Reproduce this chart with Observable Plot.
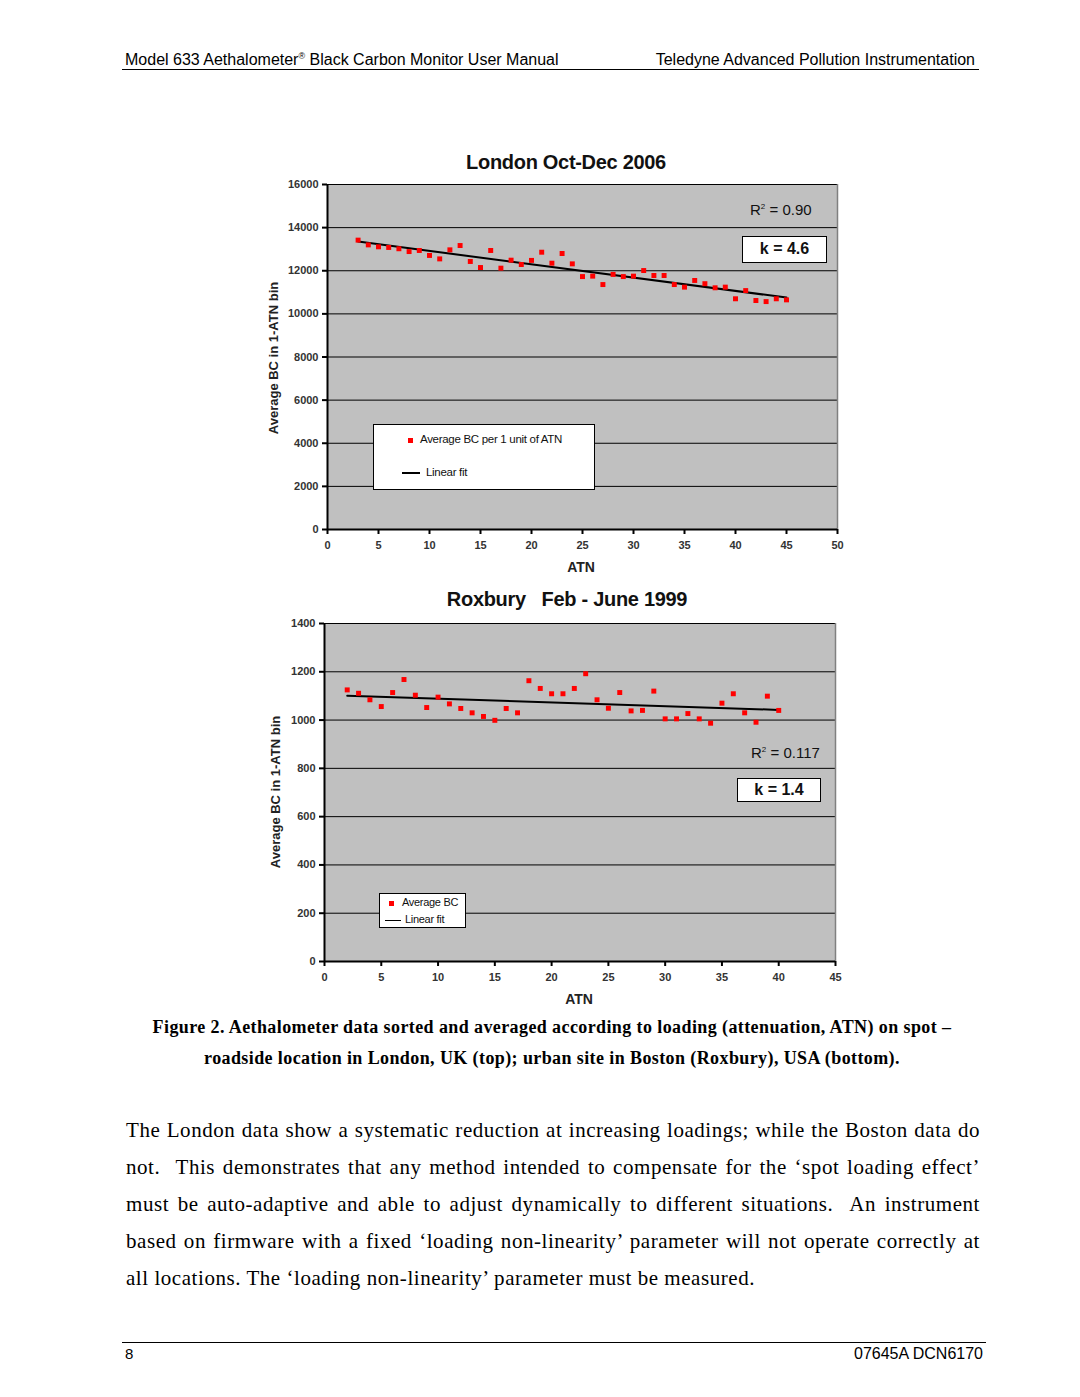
<!DOCTYPE html>
<html>
<head>
<meta charset="utf-8">
<script src="https://cdn.jsdelivr.net/npm/d3@7"></script>
<script src="https://cdn.jsdelivr.net/npm/@observablehq/plot@0.6"></script>
<style>
  html, body { margin: 0; padding: 0; background: #fff; }
  #page { position: relative; width: 1080px; height: 1397px; background: #fff; overflow: hidden; }
  .abs { position: absolute; white-space: nowrap; }
  .sans { font-family: "Liberation Sans", Arial, sans-serif; }
  .serif { font-family: "Liberation Serif", "DejaVu Serif", serif; }
  .title { font-family: "Liberation Sans", Arial, sans-serif; font-weight: bold; font-size: 20px; color: #111; letter-spacing: -0.3px; }
  .ylab { font-family: "Liberation Sans", Arial, sans-serif; font-weight: bold; font-size: 13px; color: #222; transform: translate(-50%, -50%) rotate(-90deg); }
  .xlab { font-family: "Liberation Sans", Arial, sans-serif; font-weight: bold; font-size: 14px; color: #222; transform: translate(-50%, -50%); }
  .box { position: absolute; background: #fff; border: 1.5px solid #000; box-sizing: border-box; }
  .chart { position: absolute; }
  .body-line { text-align: justify; text-align-last: justify; height: 37px; }
</style>
</head>
<body>
<div id="page">
  <!-- header -->
  <div class="abs sans" style="left:125px; top:51px; font-size:16px; color:#000;">Model 633 Aethalometer<sup style="font-size:9px;">®</sup> Black Carbon Monitor User Manual</div>
  <div class="abs sans" style="right:105px; top:51px; font-size:16px; color:#000;">Teledyne Advanced Pollution Instrumentation</div>
  <div class="abs" style="left:122px; top:69px; width:857px; height:1px; background:#000;"></div>

  <!-- charts -->
  <div id="chart1" class="chart" style="left:240px; top:150px;"></div>
  <div id="chart2" class="chart" style="left:240px; top:600px;"></div>

  <!-- top chart annotations -->
  <div class="abs title" style="left:566px; top:162px; transform:translate(-50%,-50%);">London Oct-Dec 2006</div>
  <div class="abs ylab" style="left:273px; top:358px;">Average BC in 1-ATN bin</div>
  <div class="abs xlab" style="left:581px; top:567px;">ATN</div>
  <div class="abs sans" style="left:750px; top:201px; font-size:15px; color:#111;">R<sup style="font-size:8px;">2</sup> = 0.90</div>
  <div class="box sans" style="left:742px; top:236px; width:85px; height:27px; font-size:16px; font-weight:bold; text-align:center; line-height:24px; color:#111;">k = 4.6</div>
  <div class="box" style="left:373px; top:424px; width:222px; height:66px;">
    <div class="abs" style="left:34px; top:13px; width:5px; height:5px; background:#ff0000;"></div>
    <div class="abs sans" style="left:46px; top:8px; font-size:11.5px; color:#111; letter-spacing:-0.3px;">Average BC per 1 unit of ATN</div>
    <div class="abs" style="left:28px; top:47px; width:18px; height:2px; background:#000;"></div>
    <div class="abs sans" style="left:52px; top:41px; font-size:11.5px; color:#111; letter-spacing:-0.3px;">Linear fit</div>
  </div>

  <!-- bottom chart annotations -->
  <div class="abs title" style="left:567px; top:599px; transform:translate(-50%,-50%);">Roxbury&nbsp;&nbsp;&nbsp;Feb - June 1999</div>
  <div class="abs ylab" style="left:275px; top:792px;">Average BC in 1-ATN bin</div>
  <div class="abs xlab" style="left:579px; top:999px;">ATN</div>
  <div class="abs sans" style="left:751px; top:744px; font-size:15px; color:#111;">R<sup style="font-size:8px;">2</sup> = 0.117</div>
  <div class="box sans" style="left:737px; top:778px; width:84px; height:24px; font-size:16px; font-weight:bold; text-align:center; line-height:21px; color:#111;">k = 1.4</div>
  <div class="box" style="left:379px; top:893px; width:87px; height:35px;">
    <div class="abs" style="left:9px; top:7px; width:5px; height:5px; background:#ff0000;"></div>
    <div class="abs sans" style="left:22px; top:2px; font-size:11px; color:#111; letter-spacing:-0.3px;">Average BC</div>
    <div class="abs" style="left:5px; top:26px; width:16px; height:1px; background:#000;"></div>
    <div class="abs sans" style="left:25px; top:19px; font-size:11px; color:#111; letter-spacing:-0.3px;">Linear fit</div>
  </div>

  <!-- caption -->
  <div class="abs serif" style="left:0; width:1104px; top:1017px; font-size:18px; letter-spacing:0.4px; font-weight:bold; text-align:center; color:#000;">Figure 2. Aethalometer data sorted and averaged according to loading (attenuation, ATN) on spot –</div>
  <div class="abs serif" style="left:0; width:1104px; top:1048px; font-size:18px; letter-spacing:0.4px; font-weight:bold; text-align:center; color:#000;">roadside location in London, UK (top); urban site in Boston (Roxbury), USA (bottom).</div>

  <!-- body text -->
  <div class="abs serif" style="left:126px; top:1118px; width:854px; font-size:21px; letter-spacing:0.55px; color:#000; white-space:normal;">
    <div class="body-line">The London data show a systematic reduction at increasing loadings; while the Boston data do</div>
    <div class="body-line">not.&nbsp; This demonstrates that any method intended to compensate for the ‘spot loading effect’</div>
    <div class="body-line">must be auto-adaptive and able to adjust dynamically to different situations.&nbsp; An instrument</div>
    <div class="body-line">based on firmware with a fixed ‘loading non-linearity’ parameter will not operate correctly at</div>
    <div style="text-align:left; height:37px;">all locations. The ‘loading non-linearity’ parameter must be measured.</div>
  </div>

  <!-- footer -->
  <div class="abs" style="left:122px; top:1342px; width:864px; height:1px; background:#000;"></div>
  <div class="abs sans" style="left:125px; top:1345px; font-size:15px; color:#000;">8</div>
  <div class="abs sans" style="right:97px; top:1345px; font-size:16px; color:#000;">07645A DCN6170</div>
</div>

<script>
// ---- London Oct-Dec 2006 ----
const londonATN = [3,4,5,6,7,8,9,10,11,12,13,14,15,16,17,18,19,20,21,22,23,24,25,26,27,28,29,30,31,32,33,34,35,36,37,38,39,40,41,42,43,44,45];
const londonBC  = [13420,13200,13110,13080,13020,12890,12940,12710,12550,12970,13170,12430,12150,12940,12120,12490,12290,12480,12860,12350,12800,12320,11730,11750,11360,11830,11730,11750,12010,11780,11780,11360,11240,11550,11400,11210,11240,10700,11080,10620,10570,10700,10650];
const londonXTicks = [0,5,10,15,20,25,30,35,40,45,50];
const londonYTicks = [0,2000,4000,6000,8000,10000,12000,14000,16000];

// ---- Roxbury Feb - June 1999 ----
const roxburyATN = [2,3,4,5,6,7,8,9,10,11,12,13,14,15,16,17,18,19,20,21,22,23,24,25,26,27,28,29,30,31,32,33,34,35,36,37,38,39,40];
const roxburyBC  = [1125,1111,1084,1056,1114,1168,1103,1052,1095,1067,1048,1030,1015,999,1048,1030,1163,1131,1109,1109,1131,1192,1084,1049,1114,1038,1040,1120,1005,1005,1027,1005,987,1070,1109,1030,991,1099,1040];
const roxburyXTicks = [0,5,10,15,20,25,30,35,40,45];
const roxburyYTicks = [0,200,400,600,800,1000,1200,1400];

function makeChart(xs, ys, xTicks, yTicks, dims) {
  const data = xs.map((x, i) => ({x, y: ys[i]}));
  const xMax = xTicks[xTicks.length - 1];
  const yMax = yTicks[yTicks.length - 1];
  return Plot.plot({
    width: dims.width,
    height: dims.height,
    marginLeft: dims.ml,
    marginRight: dims.mr,
    marginTop: dims.mt,
    marginBottom: dims.mb,
    style: {background: "transparent", fontFamily: "Liberation Sans, Arial, sans-serif", fontSize: "11px", fontWeight: "bold", color: "#333", overflow: "visible"},
    x: {domain: [0, xMax]},
    y: {domain: [0, yMax]},
    marks: [
      Plot.frame({fill: "#c0c0c0", stroke: "none"}),
      Plot.ruleY(yTicks, {stroke: "#000", strokeWidth: 1}),
      Plot.ruleX([xMax], {stroke: "#808080", strokeWidth: 1.5}),
      Plot.ruleX([0], {stroke: "#000", strokeWidth: 2}),
      Plot.ruleY([0], {stroke: "#000", strokeWidth: 2}),
      Plot.linearRegressionY(data, {x: "x", y: "y", stroke: "#000", strokeWidth: 2, ci: 0}),
      Plot.dot(data, {x: "x", y: "y", symbol: "square", r: 2.8, fill: "#ff0000", stroke: "none"}),
      Plot.axisY(yTicks, {tickSize: 5, tickPadding: 4, tickFormat: "d", stroke: "#000", strokeWidth: 2, label: null, fill: "#333"}),
      Plot.axisX(xTicks, {tickSize: 5, tickPadding: 7, tickFormat: "d", stroke: "#000", strokeWidth: 2, label: null, fill: "#333"})
    ]
  });
}

document.getElementById("chart1").appendChild(
  makeChart(londonATN, londonBC, londonXTicks, londonYTicks, {width: 620, height: 440, ml: 87, mr: 23, mt: 34, mb: 61})
);
document.getElementById("chart2").appendChild(
  makeChart(roxburyATN, roxburyBC, roxburyXTicks, roxburyYTicks, {width: 620, height: 420, ml: 84, mr: 25, mt: 23, mb: 59})
);
</script>
</body>
</html>
